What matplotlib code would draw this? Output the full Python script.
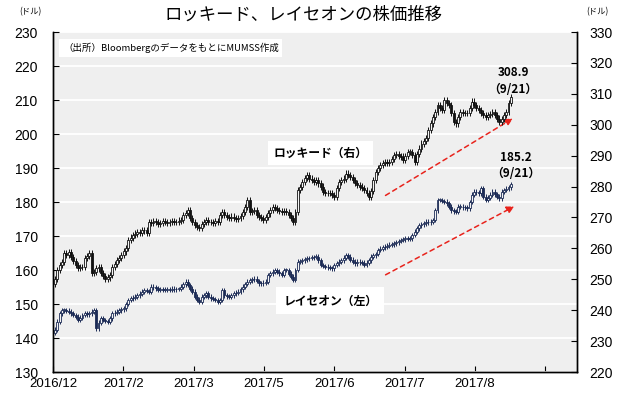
import matplotlib
matplotlib.use('Agg')
import matplotlib.pyplot as plt
import numpy as np

plt.rcParams['font.family'] = ['Liberation Sans', 'Noto Sans CJK JP', 'DejaVu Sans']
jp = ['Noto Sans CJK JP', 'DejaVu Sans']

# 日次終値(読み取り値)  ロッキード(右軸)
lmt_close = [
    250.0, 253.0, 254.5, 255.7, 258.5, 257.8, 258.9, 257.3, 256.0, 254.6,
    253.6, 253.9, 254.0, 256.9, 257.5, 258.5, 252.0, 252.4, 253.5, 254.0,
    252.0, 251.0, 250.2, 250.6, 251.4, 254.0, 255.0, 256.2, 256.9, 257.8,
    259.0, 260.0, 262.7, 263.5, 264.3, 264.8, 265.4, 265.0, 265.8, 266.0,
    264.9, 268.6, 268.2, 268.9, 268.6, 268.0, 268.1, 268.8, 268.6, 268.3,
    268.6, 268.9, 268.6, 268.4, 269.0, 269.2, 270.8, 271.5, 272.4, 269.7,
    268.6, 267.5, 266.8, 266.5, 268.0, 268.5, 269.2, 268.4, 268.6, 268.2,
    268.9, 268.6, 270.8, 271.8, 270.9, 270.2, 269.8, 270.3, 269.7, 269.4,
    269.7, 270.5, 271.8, 273.5, 275.6, 271.8, 272.0, 272.4, 270.8, 270.2,
    269.7, 269.2, 270.2, 271.3, 272.4, 273.5, 273.0, 272.4, 272.0, 271.8,
    272.0, 271.8, 270.8, 269.7, 268.5, 271.8, 278.9, 279.9, 281.6, 282.8,
    283.7, 282.6, 282.0, 281.6, 282.1, 281.0, 280.0, 278.3, 278.0, 277.8,
    277.8, 277.2, 276.7, 279.4, 281.6, 282.0, 282.6, 284.2, 283.8, 283.2,
    282.1, 281.2, 280.5, 280.0, 279.5, 278.9, 277.8, 276.5, 278.5, 282.1,
    284.8, 286.0, 287.0, 287.6, 288.0, 287.5, 288.0, 289.0, 290.2, 290.5,
    289.9, 289.7, 288.6, 290.0, 291.3, 291.3, 290.2, 288.0, 290.5, 292.3,
    293.9, 294.8, 295.6, 298.3, 300.4, 302.5, 304.2, 306.4, 305.5, 304.8,
    308.1, 307.0, 306.4, 303.7, 301.0, 300.4, 302.5, 304.2, 303.7, 303.9,
    303.7, 305.5, 307.5, 306.4, 305.5, 304.8, 303.7, 303.2, 302.6, 303.1,
    303.5, 304.2, 303.1, 302.0, 301.0, 301.8, 303.1, 304.2, 306.9, 308.9,
]
lmt_first_open = 248.5

# レイセオン(左軸)
rtn_close = [
    142.4, 144.8, 147.3, 148.2, 148.2, 148.0, 147.7, 147.3, 146.8, 146.3,
    145.3, 146.0, 146.8, 147.3, 147.0, 147.3, 147.7, 148.2, 142.8, 144.5,
    145.8, 145.3, 145.0, 144.8, 145.8, 147.3, 147.5, 147.7, 148.2, 148.4,
    148.7, 150.0, 151.2, 151.7, 151.9, 152.1, 152.6, 153.0, 153.6, 154.1,
    153.8, 153.6, 155.1, 154.9, 154.6, 154.1, 154.3, 154.1, 154.2, 154.4,
    154.2, 154.5, 154.3, 154.4, 154.4, 155.1, 155.8, 156.6, 155.6, 154.5,
    153.6, 152.1, 151.3, 150.7, 152.1, 152.6, 153.1, 152.1, 151.7, 151.5,
    151.2, 150.7, 151.2, 154.1, 152.6, 152.3, 152.1, 152.6, 153.1, 153.3,
    153.6, 154.3, 155.1, 155.9, 156.6, 157.0, 157.3, 157.5, 156.8, 156.1,
    156.1, 156.3, 156.6, 158.5, 159.0, 159.5, 160.0, 159.5, 159.0, 158.5,
    160.0, 160.0, 158.9, 158.0, 157.1, 160.0, 162.4, 162.6, 162.9, 163.1,
    163.4, 163.5, 163.7, 163.8, 163.9, 162.9, 161.5, 161.2, 161.0, 160.8,
    160.6, 160.5, 161.5, 162.0, 162.4, 162.9, 163.6, 164.4, 163.9, 163.0,
    162.4, 162.0, 162.4, 162.3, 162.2, 161.5, 162.2, 162.9, 163.9, 164.3,
    164.7, 165.9, 166.3, 166.7, 166.9, 167.1, 167.4, 167.6, 167.8, 168.1,
    168.5, 168.8, 169.0, 169.3, 169.2, 169.3, 170.3, 171.3, 172.3, 173.2,
    173.4, 173.7, 174.2, 174.0, 174.2, 174.7, 177.6, 180.6, 180.6, 180.3,
    180.1, 179.6, 178.6, 177.6, 177.3, 177.1, 178.6, 178.6, 178.4, 178.5,
    178.1, 180.0, 182.1, 183.0, 182.8, 182.6, 184.0, 181.6, 180.6, 181.3,
    182.1, 183.0, 182.3, 181.6, 181.1, 183.0, 183.5, 183.9, 184.3, 185.2,
]
rtn_first_open = 141.6

x_labels = ['2016/12', '2017/2', '2017/3', '2017/5', '2017/6', '2017/7', '2017/8', '']
left_ticks = list(range(130, 231, 10))
right_ticks = list(range(220, 331, 10))


def candles(ax, first_open, close, edge, wick):
    close = np.array(close)
    opn = np.concatenate([[first_open], close[:-1]])
    x = np.arange(len(close))
    lo = np.minimum(opn, close)
    hi = np.maximum(opn, close)
    h = np.maximum(hi - lo, 0.2)
    up = close >= opn
    ax.vlines(x, lo - wick, hi + wick, color=edge, lw=0.7, zorder=3)
    ax.bar(x[up], h[up], bottom=lo[up], width=0.85, color='#f4f4f4',
           edgecolor=edge, linewidth=0.6, zorder=4)
    ax.bar(x[~up], h[~up], bottom=lo[~up], width=0.85, color=edge,
           edgecolor=edge, linewidth=0.6, zorder=4)


fig = plt.figure(figsize=(6.2, 3.99), dpi=100)
ax = fig.add_axes([53 / 620, 27 / 399, 524 / 620, 340 / 399])
ax2 = ax.twinx()

ax.set_facecolor('#efefef')
ax.set_ylim(130, 230)
ax.set_yticks(left_ticks)
ax.grid(axis='y', color='white', lw=1.3)
ax.set_axisbelow(True)
ax2.set_ylim(220, 330)
ax2.set_yticks(right_ticks)

x0, x1 = -0.87, 227.9
step = 30.7
ax.set_xlim(x0, x1)
ax.set_xticks([x0 + k * step for k in range(len(x_labels))])
ax.set_xticklabels(x_labels)

candles(ax, rtn_first_open, rtn_close, '#1b2a55', 0.7)
candles(ax2, lmt_first_open, lmt_close, '#111111', 1.0)

for a in (ax, ax2):
    a.spines['top'].set_visible(False)
    for s in ('left', 'right', 'bottom'):
        a.spines[s].set_linewidth(1.0)
ax.tick_params(axis='x', direction='in', length=4, labelsize=9.5, pad=4)
ax.tick_params(axis='y', direction='in', length=4, labelsize=10, pad=11)
ax2.tick_params(axis='y', direction='in', length=4, labelsize=10, pad=9)

fig.text(0.49, 0.962, 'ロッキード、レイセオンの株価推移', family=jp,
         fontsize=12.5, ha='center', va='center')
fig.text(30 / 620, 1 - 12 / 399, '(ドル)', family=jp, fontsize=6,
         ha='center', va='center')
fig.text(597 / 620, 1 - 12 / 399, '(ドル)', family=jp, fontsize=6,
         ha='center', va='center')

ax.text(0.019, 0.953, '（出所）BloombergのデータをもとにMUMSS作成', family=jp,
        fontsize=6.8, transform=ax.transAxes, ha='left', va='center',
        bbox=dict(facecolor='white', edgecolor='none', pad=2.5), zorder=6)
ax.text(0.510, 0.644, 'ロッキード（右）', family=jp, fontsize=8.5,
        fontweight='bold', transform=ax.transAxes, ha='center', va='center',
        bbox=dict(facecolor='white', edgecolor='none', pad=4), zorder=6)
ax.text(0.529, 0.209, 'レイセオン（左）', family=jp, fontsize=8.5,
        fontweight='bold', transform=ax.transAxes, ha='center', va='center',
        bbox=dict(facecolor='white', edgecolor='none', pad=5), zorder=6)

ax.text(0.878, 0.882, '308.9', family=jp, fontsize=8.5, fontweight='bold',
        transform=ax.transAxes, ha='center', va='center', zorder=6)
ax.text(0.878, 0.832, '（9/21）', family=jp, fontsize=8.5, fontweight='bold',
        transform=ax.transAxes, ha='center', va='center', zorder=6)
ax.text(0.884, 0.632, '185.2', family=jp, fontsize=8.5, fontweight='bold',
        transform=ax.transAxes, ha='center', va='center', zorder=6)
ax.text(0.884, 0.585, '（9/21）', family=jp, fontsize=8.5, fontweight='bold',
        transform=ax.transAxes, ha='center', va='center', zorder=6)

arrow = dict(arrowstyle='-|>', color='#e8231c', lw=1.1, ls=(0, (3, 2.5)),
             mutation_scale=11)
ax.annotate('', xy=(0.882, 0.750), xytext=(0.630, 0.515),
            xycoords='axes fraction', arrowprops=arrow, zorder=7)
ax.annotate('', xy=(0.885, 0.491), xytext=(0.630, 0.282),
            xycoords='axes fraction', arrowprops=arrow, zorder=7)

fig.savefig('out.png', dpi=100)
